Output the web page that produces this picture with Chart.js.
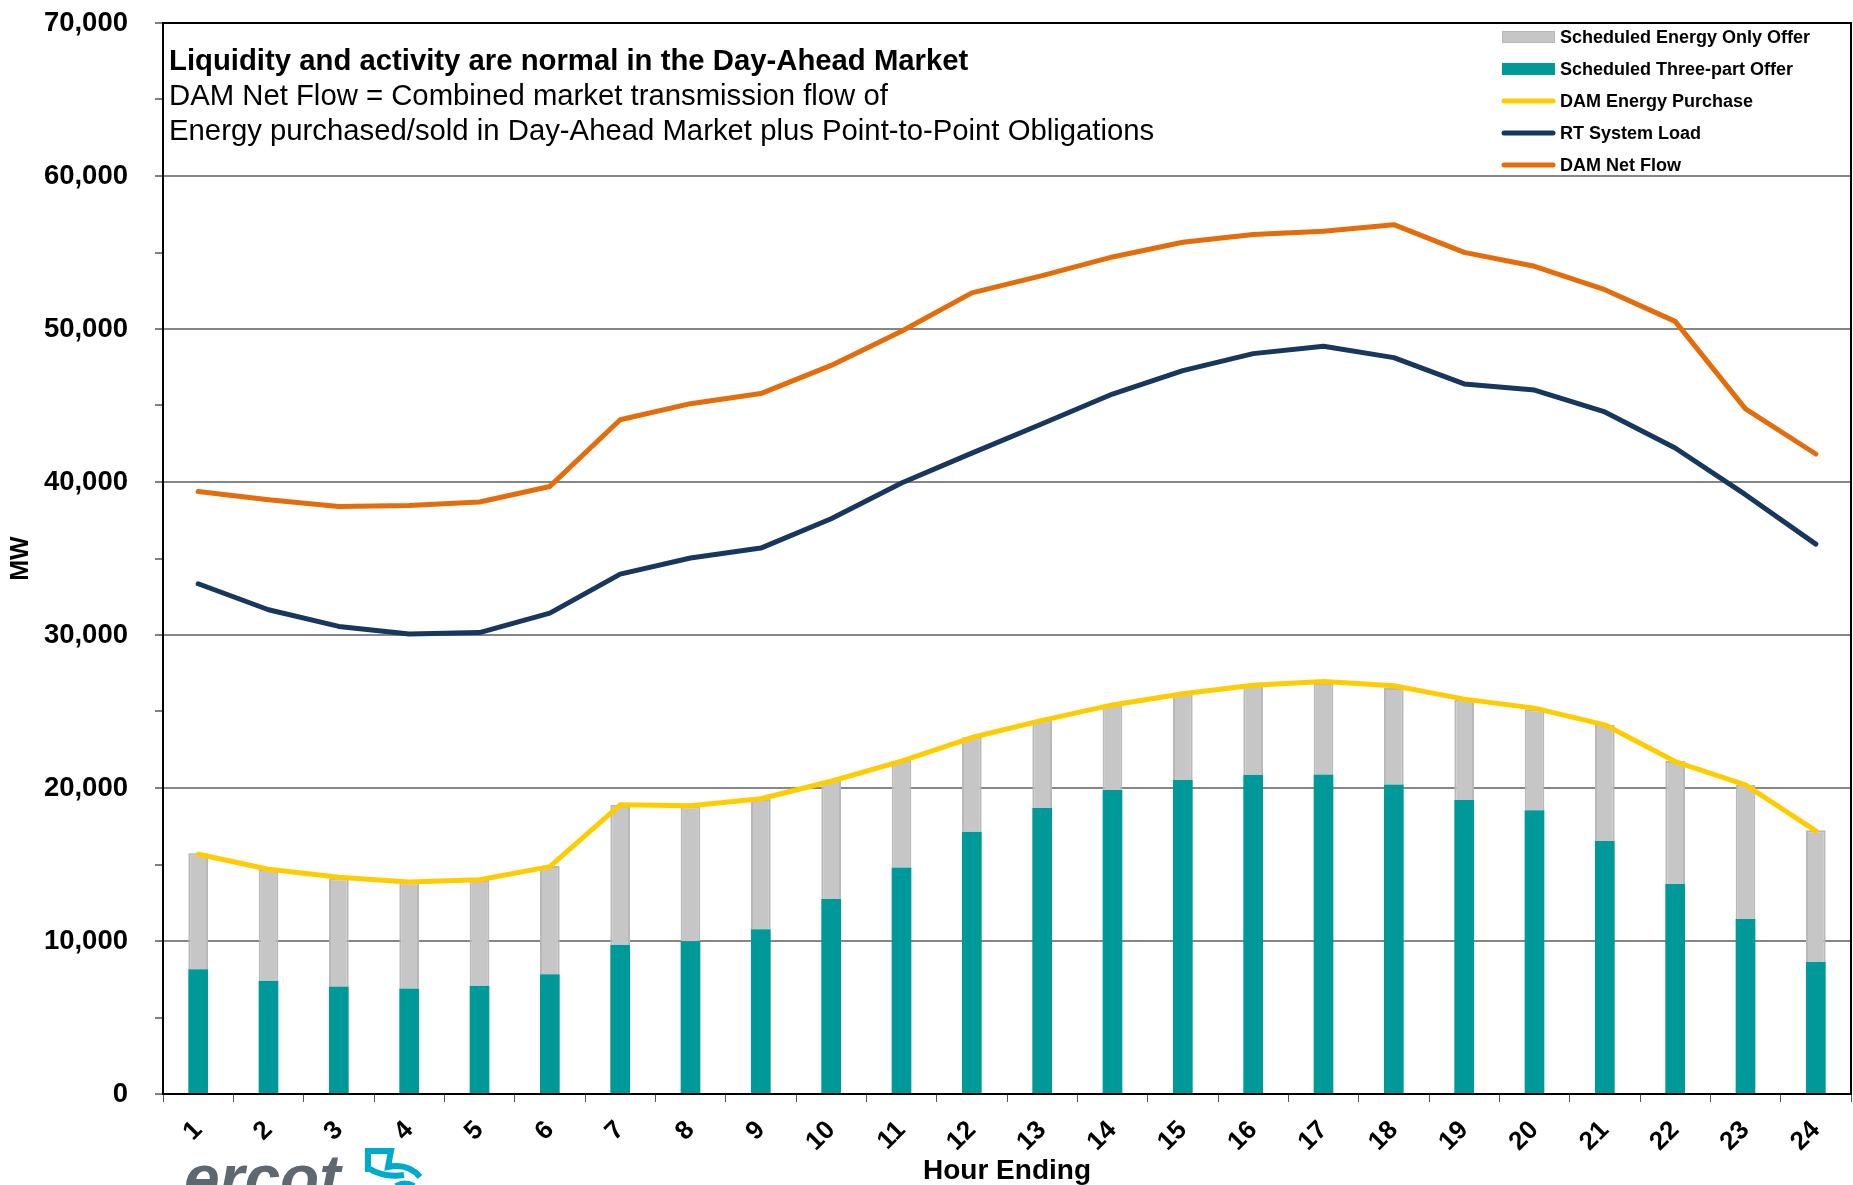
<!DOCTYPE html>
<html>
<head>
<meta charset="utf-8">
<script src="https://cdn.jsdelivr.net/npm/chart.js@4.4.1/dist/chart.umd.min.js"></script>
<style>
  html, body { margin: 0; padding: 0; background: #fff; overflow: hidden; }
  #wrap { position: relative; width: 1853px; height: 1185px; overflow: hidden; }
  #logo { position: absolute; left: 184px; top: 1146px; font: italic bold 64px/1 "Liberation Sans", Arial, sans-serif; color: #5f6770; }
</style>
</head>
<body>
<div id="wrap">
  <canvas id="dam-chart" width="1853" height="1185"></canvas>
  <div id="logo">ercot</div>
</div>
<script>
const hours = ['1','2','3','4','5','6','7','8','9','10','11','12','13','14','15','16','17','18','19','20','21','22','23','24'];

// MW per hour ending
const threePartOffer = [8150, 7410, 7020, 6890, 7080, 7820, 9760, 9980, 10760, 12740, 14810, 17140,
                        18690, 19870, 20520, 20860, 20880, 20230, 19220, 18550, 16540, 13730, 11440, 8630];
const energyOnlyOffer = [7590, 7240, 7080, 6950, 6910, 7090, 9140, 8820, 8520, 7730, 6970, 6170,
                         5730, 5590, 5670, 5870, 5980, 6300, 6540, 6600, 7590, 8040, 8770, 8610];
const damPurchase = [15670, 14690, 14170, 13860, 14000, 14860, 18900, 18840, 19300, 20440, 21760, 23300,
                     24420, 25430, 26160, 26720, 26960, 26680, 25810, 25220, 24130, 21730, 20210, 17200];
const rtSystemLoad = [33350, 31650, 30560, 30060, 30160, 31430, 33980, 35030, 35680, 37600, 39930, 41890,
                      43810, 45750, 47280, 48390, 48870, 48130, 46410, 46010, 44580, 42220, 39170, 35940];
const damNetFlow = [39380, 38840, 38400, 38470, 38690, 39710, 44070, 45120, 45780, 47620, 49850, 52360,
                    53490, 54710, 55670, 56170, 56390, 56820, 55010, 54100, 52570, 50500, 44780, 41830];

const noteLines = [
  'Liquidity and activity are normal in the Day-Ahead Market',
  'DAM Net Flow = Combined market transmission flow of',
  'Energy purchased/sold in Day-Ahead Market plus Point-to-Point Obligations'
];

const FONT = '"Liberation Sans", Arial, Helvetica, sans-serif';
Chart.defaults.font.family = FONT;
Chart.defaults.color = '#000';

// legend order as in the original (dataset indexes)
const legendOrder = [4, 3, 2, 1, 0];

const frameAndNotes = {
  id: 'frameAndNotes',
  afterDraw(chart) {
    const { ctx, chartArea: a } = chart;
    ctx.save();
    ctx.strokeStyle = '#000';
    ctx.lineWidth = 2;
    ctx.beginPath();
    ctx.moveTo(a.left, a.top);
    ctx.lineTo(a.right, a.top);
    ctx.lineTo(a.right, a.bottom);
    ctx.stroke();

    ctx.fillStyle = '#000';
    ctx.textAlign = 'left';
    ctx.textBaseline = 'middle';
    ctx.font = 'bold 29.3px ' + FONT;
    ctx.fillText(noteLines[0], a.left + 6, 62);
    ctx.font = '29.3px ' + FONT;
    ctx.fillText(noteLines[1], a.left + 6, 97);
    ctx.fillText(noteLines[2], a.left + 6, 132);

    // legend
    ctx.font = 'bold 18px ' + FONT;
    legendOrder.forEach((di, i) => {
      const ds = chart.data.datasets[di];
      const y = 37 + i * 32;
      const x0 = 1502, x1 = 1555;
      if (ds.type === 'bar') {
        ctx.fillStyle = ds.backgroundColor;
        ctx.fillRect(x0, y - 6, x1 - x0, 12);
        if (ds.borderWidth) {
          ctx.strokeStyle = ds.borderColor;
          ctx.lineWidth = 1;
          ctx.strokeRect(x0 + 0.5, y - 5.5, x1 - x0 - 1, 11);
        }
      } else {
        ctx.strokeStyle = ds.borderColor;
        ctx.lineWidth = 5;
        ctx.lineCap = 'round';
        ctx.beginPath();
        ctx.moveTo(x0 + 2, y);
        ctx.lineTo(x1 - 2, y);
        ctx.stroke();
      }
      ctx.fillStyle = '#000';
      ctx.fillText(ds.label, 1560, y + 1);
    });

    // logo mark
    ctx.strokeStyle = '#00a9ce';
    ctx.lineWidth = 6;
    ctx.lineCap = 'butt';
    ctx.lineJoin = 'miter';
    ctx.beginPath();
    ctx.moveTo(368, 1172);
    ctx.lineTo(368, 1151);
    ctx.lineTo(391, 1151);
    ctx.lineTo(388, 1167);
    ctx.quadraticCurveTo(408, 1163, 420, 1177);
    ctx.moveTo(368, 1168);
    ctx.quadraticCurveTo(384, 1178, 404, 1175);
    ctx.moveTo(396, 1186);
    ctx.quadraticCurveTo(405, 1181, 414, 1186);
    ctx.stroke();
    ctx.restore();
  }
};

new Chart(document.getElementById('dam-chart'), {
  type: 'bar',
  data: {
    labels: hours,
    datasets: [
      { type: 'line', label: 'DAM Net Flow', data: damNetFlow, borderColor: '#E46C0A', backgroundColor: '#E46C0A',
        borderWidth: 5, pointRadius: 0, borderCapStyle: 'round', borderJoinStyle: 'round', stack: 'flow', order: 0 },
      { type: 'line', label: 'RT System Load', data: rtSystemLoad, borderColor: '#17375E', backgroundColor: '#17375E',
        borderWidth: 5, pointRadius: 0, borderCapStyle: 'round', borderJoinStyle: 'round', stack: 'load', order: 0 },
      { type: 'line', label: 'DAM Energy Purchase', data: damPurchase, borderColor: '#FFCC00', backgroundColor: '#FFCC00',
        borderWidth: 5, pointRadius: 0, borderCapStyle: 'round', borderJoinStyle: 'round', stack: 'purchase', order: 0 },
      { type: 'bar', label: 'Scheduled Three-part Offer', data: threePartOffer, backgroundColor: '#009999',
        stack: 'offer', order: 1 },
      { type: 'bar', label: 'Scheduled Energy Only Offer', data: energyOnlyOffer, backgroundColor: '#C6C6C6',
        borderColor: '#B8B8B8', borderWidth: 2, stack: 'offer', order: 1 }
    ]
  },
  options: {
    responsive: false,
    animation: false,
    datasets: { bar: { categoryPercentage: 1, barPercentage: 0.28 } },
    layout: { padding: { top: 23, right: 2, left: 0, bottom: 0 } },
    plugins: { legend: { display: false }, tooltip: { enabled: false } },
    scales: {
      x: {
        stacked: true,
        offset: true,
        afterFit: s => { s.height = 91; s.paddingLeft = 0; s.paddingRight = 0; },
        grid: { offset: true, drawOnChartArea: false, tickLength: 8, tickColor: '#555', tickWidth: 1 },
        border: { color: '#000', width: 2 },
        ticks: { autoSkip: false, minRotation: 45, maxRotation: 45, padding: 13,
                 font: { size: 26, weight: 'bold' } },
        title: { display: true, text: 'Hour Ending', font: { size: 28, weight: 'bold' }, padding: { top: 0, bottom: -3 } }
      },
      y: {
        stacked: true,
        min: 0,
        max: 70000,
        afterFit: s => { s.width = 163; s.paddingTop = 0; s.paddingBottom = 0; },
        grid: {
          color: c => (c.tick && c.tick.value % 10000 === 0) ? '#868686' : 'rgba(0,0,0,0)',
          lineWidth: 2,
          tickColor: '#000',
          tickLength: 8,
          tickWidth: 1
        },
        border: { color: '#000', width: 2 },
        ticks: {
          stepSize: 5000,
          padding: 27,
          font: { size: 27.5, weight: 'bold' },
          callback: v => v % 10000 === 0 ? v.toLocaleString('en-US') : ''
        },
        title: { display: true, text: 'MW', font: { size: 25, weight: 'bold' }, padding: { top: 6, bottom: 0 } }
      }
    }
  },
  plugins: [frameAndNotes]
});
</script>
</body>
</html>
